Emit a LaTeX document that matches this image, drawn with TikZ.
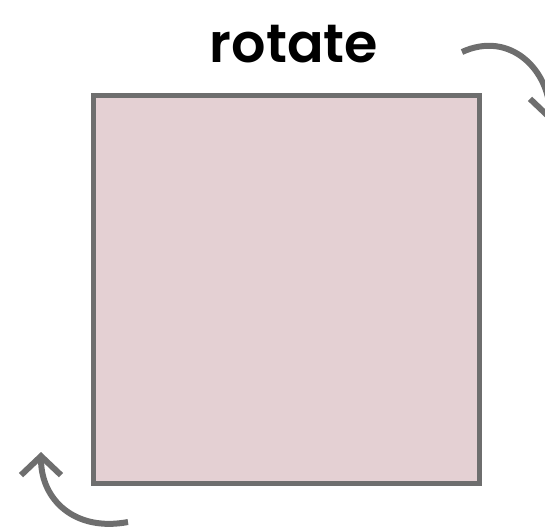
\documentclass[tikz,border=0pt]{standalone}
\usepackage{fontspec}
\setmainfont{Poppins}[BoldFont={Poppins SemiBold}]
\usetikzlibrary{arrows.meta}
\definecolor{edgegray}{HTML}{6E6E6E}
\definecolor{boxfill}{HTML}{E4D0D3}
\tikzset{
  rotarrow/.style={draw=edgegray, line width=6pt, line cap=butt,
    -{Straight Barb[length=19pt, width=40pt, line width=6pt]}},
  squarebox/.style={draw=edgegray, fill=boxfill, line width=5pt, minimum width=386pt, minimum height=388pt, inner sep=0pt, outer sep=0pt},
  title/.style={font=\fontsize{54pt}{60pt}\selectfont\bfseries, text=black, anchor=base, inner sep=0pt}
}
\begin{document}
\begin{tikzpicture}[x=1pt, y=-1pt]
  \useasboundingbox (0,0) rectangle (545,528);
  \begin{scope}
  \clip (0,0) rectangle (545,528);
  \node[squarebox] (sq) at (286.5,289.5) {};
  \node[title] (lbl) at (294,62) {rotate};
  \coordinate (trs) at (462,52);
  \coordinate (tre) at (550,122);
  \coordinate (bls) at (128,522);
  \coordinate (ble) at (41,452);
  \draw[rotarrow] (trs) .. controls (510,30) and (550,70) .. (tre);
  \draw[rotarrow] (bls) .. controls (75,532) and (41,500) .. (ble);
  \end{scope}
\end{tikzpicture}
\end{document}
